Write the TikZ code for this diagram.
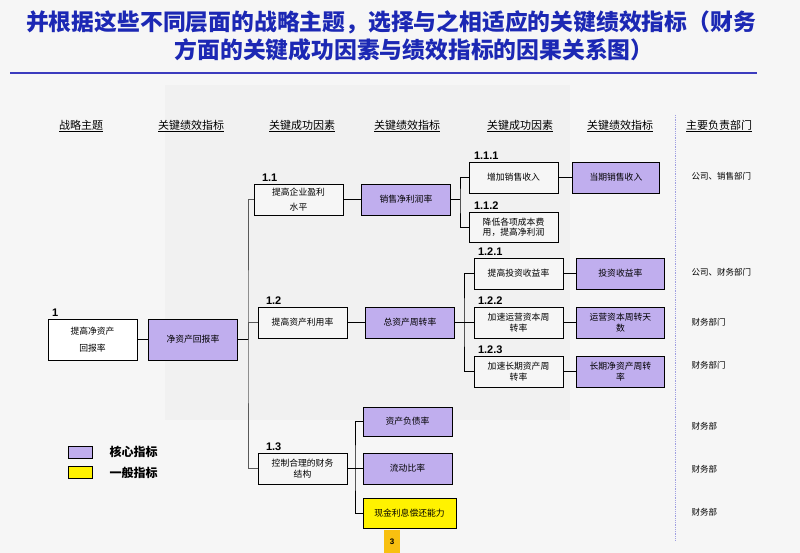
\documentclass[tikz,border=0pt]{standalone}
\usepackage{fontspec}
\setmainfont{Noto Sans CJK SC}
\newfontfamily\numfont{Liberation Sans}
\usepackage{xcolor}
\usetikzlibrary{positioning}
\definecolor{corepurple}{RGB}{192,174,238}
\definecolor{titleblue}{RGB}{28,40,180}
\definecolor{ruleblue}{RGB}{60,60,190}
\definecolor{dotblue}{RGB}{160,160,225}
\definecolor{bggray}{RGB}{246,246,246}
\definecolor{bandgray}{RGB}{241,241,241}
\definecolor{pageorange}{RGB}{248,192,16}

\begin{document}
\begin{tikzpicture}[x=1pt,y=-1pt,
  every node/.style={font=\fontsize{8.8}{10.5}\selectfont},
  factor/.style={draw,fill=bggray,minimum width=89pt,minimum height=31pt,
                 inner sep=1pt,align=center,text width=84pt},
  kpi/.style={factor,fill=corepurple},
  genkpi/.style={factor,fill=yellow},
  head/.style={font=\fontsize{11}{13}\selectfont},
  num/.style={font=\numfont\bfseries\fontsize{11}{11}\selectfont,
              anchor=south west,inner sep=0pt},
  dept/.style={anchor=west,font=\fontsize{8.5}{10}\selectfont},
  legbox/.style={draw,minimum width=24pt,minimum height=12pt,inner sep=0pt},
  trunk/.style={draw=black!65,line width=1pt},
]
\useasboundingbox[fill=bggray] (0,0) rectangle (800,553);
\fill[bandgray] (165,85) rectangle (570,420);

% title
\node[font=\bfseries\fontsize{22.8}{26}\selectfont,text=titleblue] (title1) at (391,22)
  {并根据这些不同层面的战略主题，选择与之相适应的关键绩效指标（财务};
\node[font=\bfseries\fontsize{22.8}{26}\selectfont,text=titleblue] (title2) at (414,50)
  {方面的关键成功因素与绩效指标的因果关系图）};
\draw[ruleblue,line width=2.5pt] (10,73) -- (757,73);

% column heads
\node[head] (h1) at (81,126) {\underline{战略主题}};
\node[head] (h2) at (191,126) {\underline{关键绩效指标}};
\node[head] (h3) at (302,126) {\underline{关键成功因素}};
\node[head] (h4) at (407,126) {\underline{关键绩效指标}};
\node[head] (h5) at (520,126) {\underline{关键成功因素}};
\node[head] (h6) at (620,126) {\underline{关键绩效指标}};
\node[head] (h7) at (719,126) {\underline{主要负责部门}};
\draw[dotblue,densely dotted,line width=0.8pt] (675,115) -- (675,540);

% level 1
\node[factor,fill=white,minimum height=41pt] (goal) at (92.5,339.5) {提高净资产\\[6pt]回报率};
\node[kpi,minimum height=41pt,right=11pt of goal] (roe) {净资产回报率};
\node[num] at ([xshift=4pt,yshift=2pt]goal.north west) {1};

% level 2
\node[factor] (f11) at (298.5,199.5) {提高企业盈利\\[4pt]水平};
\node[kpi,right=18pt of f11] (npm) {销售净利润率};
\node[factor] (f12) at (302.5,322.5) {提高资产利用率};
\node[kpi,right=18pt of f12] (tat) {总资产周转率};
\node[factor] (f13) at (302.5,468.5) {控制合理的财务\\结构};
\node[kpi,minimum height=29pt] (dar) at (407.5,421.5) {资产负债率};
\node[kpi] (cur) at (407.5,468.5) {流动比率};
\node[genkpi,minimum width=93pt,minimum height=30pt] (icr) at (409.5,513) {现金利息偿还能力};
\node[num] at ([xshift=8pt,yshift=2pt]f11.north west) {1.1};
\node[num] at ([xshift=8pt,yshift=2pt]f12.north west) {1.2};
\node[num] at ([xshift=8pt,yshift=2pt]f13.north west) {1.3};

% level 3
\node[factor] (f111) at (513.5,177.5) {增加销售收入};
\node[kpi,minimum width=87pt,right=14pt of f111] (rev) {当期销售收入};
\node[factor,minimum height=30pt] (f112) at (513.5,227) {降低各项成本费\\用，提高净利润};
\node[factor] (f121) at (518.5,273.5) {提高投资收益率};
\node[kpi,minimum width=88pt,right=13pt of f121] (roi) {投资收益率};
\node[factor] (f122) at (518.5,322.5) {加速运营资本周\\转率};
\node[kpi,minimum width=88pt,right=13pt of f122] (wcd) {运营资本周转天\\数};
\node[factor] (f123) at (518.5,371.5) {加速长期资产周\\转率};
\node[kpi,minimum width=88pt,right=13pt of f123] (lat) {长期净资产周转\\率};
\node[num] at ([xshift=5pt,yshift=2pt]f111.north west) {1.1.1};
\node[num] at ([xshift=5pt,yshift=2pt]f112.north west) {1.1.2};
\node[num] at ([xshift=4pt,yshift=2pt]f121.north west) {1.2.1};
\node[num] at ([xshift=4pt,yshift=2pt]f122.north west) {1.2.2};
\node[num] at ([xshift=4pt,yshift=2pt]f123.north west) {1.2.3};

% departments
\node[dept] (d1) at (688,176) {公司、销售部门};
\node[dept] (d2) at (688,272) {公司、财务部门};
\node[dept] (d3) at (688,322) {财务部门};
\node[dept] (d4) at (688,365) {财务部门};
\node[dept] (d5) at (688,426) {财务部};
\node[dept] (d6) at (688,469) {财务部};
\node[dept] (d7) at (688,512) {财务部};

% connectors
\coordinate (j1) at (248,339.5);
\coordinate (j2) at (460,199.5);
\coordinate (j3) at (464,322.5);
\coordinate (j4) at (355,468.5);
\draw (goal) -- (roe);
\draw (roe.east) -- (j1);
\draw[trunk] (f11.west) -| (j1) |- (f13.west);
\draw[trunk] (j1) |- (f12.west);
\draw (f11) -- (npm);
\draw (f12) -- (tat);
\draw (npm.east) -- (j2);
\draw (f111.west) -| (j2) |- (f112.west);
\draw (f111) -- (rev);
\draw (tat.east) -- (j3);
\draw (f121.west) -| (j3) |- (f123.west);
\draw (j3) -- (f122.west);
\draw (f121) -- (roi);
\draw (f122) -- (wcd);
\draw (f123) -- (lat);
\draw (f13.east) -- (j4);
\draw (dar.west) -| (j4) |- (icr.west);
\draw (j4) -- (cur.west);

% legend
\node[legbox,fill=corepurple] (lcore) at (80,452) {};
\node[legbox,fill=yellow] (lgen) at (80,472.5) {};
\node[anchor=west,font=\bfseries\fontsize{12}{14}\selectfont] at ([xshift=14pt]lcore.east) {核心指标};
\node[anchor=west,font=\bfseries\fontsize{12}{14}\selectfont] at ([xshift=14pt]lgen.east) {一般指标};

% page number
\node[fill=pageorange,minimum width=16pt,minimum height=23pt,inner sep=0pt,anchor=north,
      font=\numfont\bfseries\fontsize{8}{8}\selectfont] (page) at (392,530) {3};
\end{tikzpicture}
\end{document}
